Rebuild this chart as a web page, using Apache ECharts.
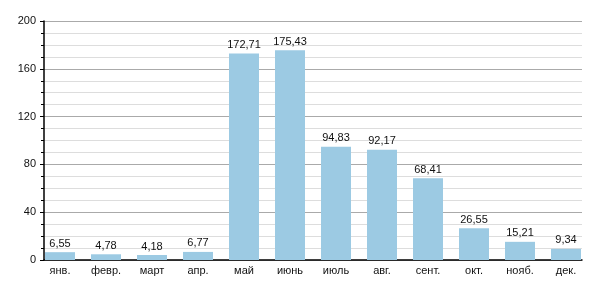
<!DOCTYPE html>
<html><head><meta charset="utf-8">
<script src="https://cdn.jsdelivr.net/npm/echarts@6/dist/echarts.min.js"></script>
<style>html,body{margin:0;padding:0;background:#fff}#c{width:600px;height:300px}</style>
</head><body><div id="c"></div>
<script>
const categories = ["янв.","февр.","март","апр.","май","июнь","июль","авг.","сент.","окт.","нояб.","дек."];
const values = [6.55,4.78,4.18,6.77,172.71,175.43,94.83,92.17,68.41,26.55,15.21,9.34];
const yTicks = [0,40,80,120,160,200];

const FF = 'Liberation Sans, Arial, sans-serif';
const yMin = yTicks[0], yMax = yTicks[yTicks.length-1];
const chart = echarts.init(document.getElementById('c'), null, {renderer:'canvas'});
chart.setOption({
  animation:false,
  textStyle:{fontFamily:FF},
  grid:[{left:44,right:18,top:21,bottom:40},{left:37,right:11,top:21,bottom:40}],
  xAxis:[
    {type:'value',gridIndex:0,min:0,max:1,
      axisLine:{show:true,lineStyle:{color:'#000',width:1.5}},
      axisTick:{show:false},axisLabel:{show:false},splitLine:{show:false}},
    {type:'category',gridIndex:1,data:categories,
      axisLine:{show:false},axisTick:{show:false},
      axisLabel:{color:'#111',fontSize:11,margin:5,fontFamily:FF}}
  ],
  yAxis:[
    {type:'value',gridIndex:0,min:yMin,max:yMax,interval:40,
      axisLine:{show:true,lineStyle:{color:'#000',width:1.5}},
      axisTick:{show:true,length:4,lineStyle:{color:'#000'}},
      minorTick:{show:true,splitNumber:4,length:3,lineStyle:{color:'#000'}},
      splitLine:{show:true,lineStyle:{color:'#aaa',width:1}},
      minorSplitLine:{show:true,lineStyle:{color:'#ddd',width:1}},
      axisLabel:{color:'#111',fontSize:11,margin:8,fontFamily:FF}},
    {type:'value',gridIndex:1,min:yMin,max:yMax,show:false,splitLine:{show:false}}
  ],
  series:[{type:'bar',xAxisIndex:1,yAxisIndex:1,data:values,barWidth:30,
    itemStyle:{color:'#9ccae3'},z:3,
    label:{show:true,position:'top',color:'#111',fontSize:11,distance:3,fontFamily:FF,
      formatter:p=>p.value.toFixed(2).replace('.',',')}}]
});
</script></body></html>
